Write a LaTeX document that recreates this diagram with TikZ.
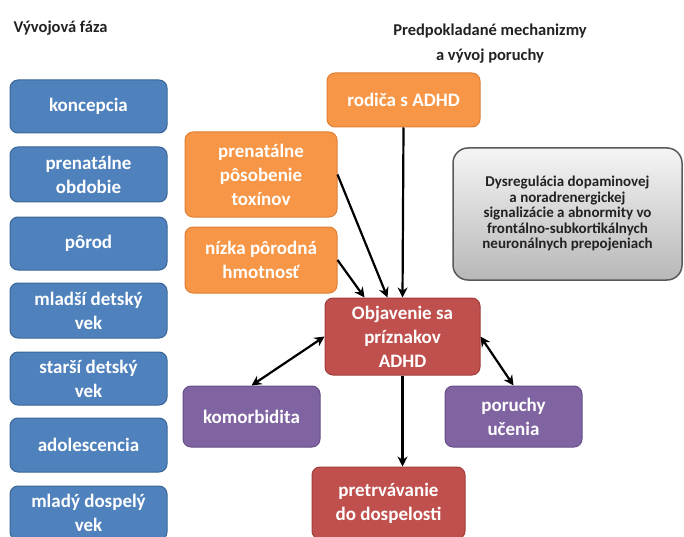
\documentclass[tikz,border=0pt]{standalone}
\usepackage{fontspec}
\setmainfont{Carlito}
\usetikzlibrary{arrows.meta}
\definecolor{cblue}{HTML}{4F81BD}
\definecolor{cblueb}{HTML}{3A6696}
\definecolor{corange}{HTML}{F79646}
\definecolor{coranb}{HTML}{E07F34}
\definecolor{cred}{HTML}{C0504D}
\definecolor{credb}{HTML}{A03E3B}
\definecolor{cpurp}{HTML}{8064A2}
\definecolor{cpurpb}{HTML}{664E86}
\definecolor{ctext}{HTML}{222222}
\tikzset{
  box/.style={rounded corners=8pt, line width=1pt, align=center, text=white,
    font=\bfseries\fontsize{19}{24}\selectfont, inner sep=2pt},
  bluebox/.style={box, fill=cblue, draw=cblueb, minimum width=157pt},
  orangebox/.style={box, fill=corange, draw=coranb},
  redbox/.style={box, fill=cred, draw=credb},
  purpbox/.style={box, fill=cpurp, draw=cpurpb},
  graybox/.style={rounded corners=15pt, line width=1.5pt, draw=black!65,
    top color=black!4, bottom color=black!28, align=center, text=ctext,
    font=\bfseries\fontsize{15}{15.5}\selectfont},
  title/.style={text=ctext, font=\bfseries\fontsize{16.5}{25}\selectfont, align=center},
  conn/.style={line width=2.2pt, -{Stealth[length=10pt,width=10pt]}},
  biconn/.style={line width=2.2pt, {Stealth[length=10pt,width=10pt]}-{Stealth[length=10pt,width=10pt]}},
}
\begin{document}
\begin{tikzpicture}[x=1pt,y=-1pt]
\useasboundingbox (0,0) rectangle (684,537);
\fill[white] (0,0) rectangle (684,537);
% titles
\node[title, anchor=west] (t1) at (10,28) {Vývojová fáza};
\node[title] (t2) at (490,44) {Predpokladané mechanizmy\\a vývoj poruchy};
% phases
\node[bluebox, minimum height=53pt] (b1) at (88.5,106.5) {koncepcia};
\node[bluebox, minimum height=55pt] (b2) at (88.5,174.5) {prenatálne\\obdobie};
\node[bluebox, minimum height=53pt] (b3) at (88.5,243.5) {pôrod};
\node[bluebox, minimum height=55pt] (b4) at (88.5,310.5) {mladší detský\\vek};
\node[bluebox, minimum height=53pt] (b5) at (88.5,378.5) {starší detský\\vek};
\node[bluebox, minimum height=54pt] (b6) at (88.5,445) {adolescencia};
\node[bluebox, minimum height=54pt] (b7) at (88.5,513) {mladý dospelý\\vek};
% mechanisms
\node[orangebox, minimum width=153pt, minimum height=54pt] (rod) at (403.5,100) {rodiča s ADHD};
\node[orangebox, minimum width=152pt, minimum height=85pt] (pren) at (261,174.5) {prenatálne\\pôsobenie\\toxínov};
\node[orangebox, minimum width=152pt, minimum height=66pt] (niz) at (261,260) {nízka pôrodná\\hmotnosť};
\node[graybox, minimum width=229pt, minimum height=132pt] (gray) at (567.5,214) {Dysregulácia dopaminovej\\a noradrenergickej\\signalizácie a abnormity vo\\frontálno-subkortikálnych\\neuronálnych prepojeniach};
\node[redbox, minimum width=155pt, minimum height=77pt] (obj) at (402.5,336.5) {Objavenie sa\\príznakov\\ADHD};
\node[purpbox, minimum width=137pt, minimum height=61pt] (kom) at (251.5,416.5) {komorbidita};
\node[purpbox, minimum width=137pt, minimum height=61pt] (por) at (513.5,416.5) {poruchy\\učenia};
\node[redbox, minimum width=153pt, minimum height=72pt] (pret) at (388.5,503) {pretrvávanie\\do dospelosti};
% connectors
\coordinate (objA) at ([xshift=-15pt]obj.north);
\coordinate (objB) at ([xshift=-38pt]obj.north);
\draw[conn] (rod.south) -- (obj.north);
\draw[conn] (pren.east) -- (objA);
\draw[conn] (niz.east) -- (objB);
\draw[biconn] (obj.west) -- (kom.north);
\draw[biconn] (obj.east) -- (por.north);
\draw[conn] (obj.south) -- (obj.south |- pret.north);
\end{tikzpicture}
\end{document}
